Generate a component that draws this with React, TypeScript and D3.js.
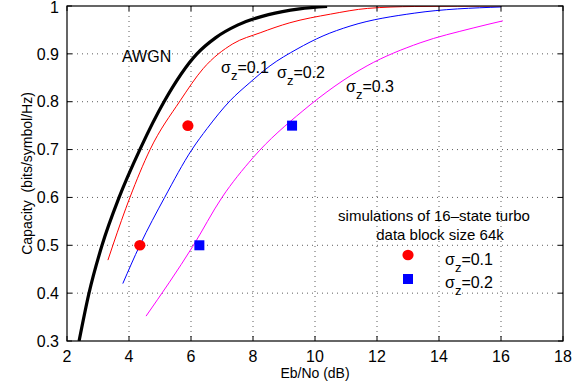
import * as d3 from "d3"

// Eb/No (dB) and capacity
const ebnoAwgn = [2.39, 2.71, 3.13, 3.68, 4.35, 5.13, 6.19, 6.8, 7.5, 8.5, 9.5, 10.39]
const capAwgn = [0.3, 0.4, 0.5, 0.6, 0.7, 0.8, 0.9, 0.934, 0.96, 0.982, 0.994, 0.999]

const ebnoS1 = [3.32, 3.48, 4.03, 4.68, 5.65, 6.39, 7.35, 8.23, 9.19, 10.5, 11.7, 13.2, 16]
const capS1 = [0.469, 0.5, 0.6, 0.7, 0.802, 0.869, 0.921, 0.944, 0.965, 0.983, 0.995, 0.999, 1.0]

const ebnoS2 = [3.8, 4.35, 5.15, 6.03, 6.52, 7.26, 7.9, 8.55, 9.42, 10.26, 11.13, 13.2, 16]
const capS2 = [0.42, 0.5, 0.6, 0.7, 0.744, 0.802, 0.84, 0.875, 0.91, 0.9375, 0.958, 0.985, 0.998]

const ebnoS3 = [4.55, 6.06, 7.0, 8.0, 9.61, 11.68, 13.39, 15.1, 16.06]
const capS3 = [0.352, 0.498, 0.6, 0.683, 0.781, 0.875, 0.923, 0.954, 0.969]

// simulation points (16-state turbo, block 64k)
const simEbnoS1 = [4.35, 5.9]
const simCapS1 = [0.5, 0.75]
const simEbnoS2 = [6.27, 9.26]
const simCapS2 = [0.5, 0.75]

const xTicks = [2, 4, 6, 8, 10, 12, 14, 16, 18]
const yTicks = [0.3, 0.4, 0.5, 0.6, 0.7, 0.8, 0.9, 1]

const font = "'Liberation Sans', Arial, Helvetica, sans-serif"

export default function App() {
  const width = 582
  const height = 390
  const x = d3.scaleLinear().domain([2, 18]).range([67, 563])
  const y = d3.scaleLinear().domain([0.3, 1]).range([341, 6])
  const [x0, x1] = x.range()
  const [y0, y1] = y.range()

  const line = (xs: number[], ys: number[]) =>
    d3
      .line<number>()
      .x((d) => x(d))
      .y((_, i) => y(ys[i]))
      .curve(d3.curveMonotoneX)(xs) || ""

  const curves = [
    { xs: ebnoAwgn, ys: capAwgn, color: "#000", w: 3.2 },
    { xs: ebnoS1, ys: capS1, color: "#ff0000", w: 1 },
    { xs: ebnoS2, ys: capS2, color: "#0000ff", w: 1 },
    { xs: ebnoS3, ys: capS3, color: "#ff00ff", w: 1 },
  ]

  const sigma = (tx: number, ty: number, val: string) => (
    <text x={tx} y={ty} fontSize={16} fill="#000">
      σ<tspan fontSize={13} dy={7}>z</tspan>
      <tspan dy={-7}>={val}</tspan>
    </text>
  )

  return (
    <svg
      width={width}
      height={height}
      style={{ position: "absolute", left: 0, top: 0, background: "#fff" }}
      fontFamily={font}
    >
      <defs>
        <clipPath id="plot">
          <rect x={x0} y={y1} width={x1 - x0} height={y0 - y1} />
        </clipPath>
      </defs>
      <rect width={width} height={height} fill="#fff" />

      {/* grid */}
      {xTicks.slice(1, -1).map((t) => (
        <line key={"gx" + t} x1={x(t)} x2={x(t)} y1={y1} y2={y0} stroke="#333" strokeWidth={0.8} strokeDasharray="1,4" />
      ))}
      {yTicks.slice(1, -1).map((t) => (
        <line key={"gy" + t} x1={x0} x2={x1} y1={y(t)} y2={y(t)} stroke="#333" strokeWidth={0.8} strokeDasharray="1,4" />
      ))}

      {/* curves */}
      <g clipPath="url(#plot)">
        {curves.map((c, i) => (
          <path key={i} d={line(c.xs, c.ys)} fill="none" stroke={c.color} strokeWidth={c.w} />
        ))}
      </g>

      {/* simulation markers */}
      {simEbnoS1.map((v, i) => (
        <ellipse key={"m1" + i} cx={x(v)} cy={y(simCapS1[i])} rx={5.6} ry={5.3} fill="#ff0000" />
      ))}
      {simEbnoS2.map((v, i) => (
        <rect key={"m2" + i} x={x(v) - 5} y={y(simCapS2[i]) - 5} width={10} height={10} fill="#0000ff" />
      ))}

      {/* frame and ticks */}
      <rect x={x0} y={y1} width={x1 - x0} height={y0 - y1} fill="none" stroke="#000" strokeWidth={1.2} />
      {xTicks.map((t) => (
        <g key={"tx" + t}>
          <line x1={x(t)} x2={x(t)} y1={y0} y2={y0 - 5} stroke="#000" />
          <line x1={x(t)} x2={x(t)} y1={y1} y2={y1 + 5} stroke="#000" />
          <text x={x(t)} y={362} textAnchor="middle" fontSize={16}>
            {t}
          </text>
        </g>
      ))}
      {yTicks.map((t) => (
        <g key={"ty" + t}>
          <line x1={x0} x2={x0 + 5} y1={y(t)} y2={y(t)} stroke="#000" />
          <line x1={x1} x2={x1 - 5} y1={y(t)} y2={y(t)} stroke="#000" />
          <text x={59} y={Math.max(y(t), 7)} dy="0.36em" textAnchor="end" fontSize={16}>
            {t}
          </text>
        </g>
      ))}

      {/* axis titles */}
      <text x={(x0 + x1) / 2} y={378} textAnchor="middle" fontSize={14}>
        Eb/No (dB)
      </text>
      <text
        transform={`translate(32,${(y0 + y1) / 2}) rotate(-90)`}
        textAnchor="middle"
        fontSize={14}
        style={{ whiteSpace: "pre" }}
      >
        {"Capacity  (bits/symbol/Hz)"}
      </text>

      {/* curve labels */}
      <text x={122} y={62} fontSize={16}>
        AWGN
      </text>
      {sigma(221, 73, "0.1")}
      {sigma(277, 78, "0.2")}
      {sigma(346, 92, "0.3")}

      {/* legend */}
      <text x={434} y={221} textAnchor="middle" fontSize={15}>
        simulations of 16–state turbo
      </text>
      <text x={440} y={240} textAnchor="middle" fontSize={15}>
        data block size 64k
      </text>
      <ellipse cx={408} cy={255} rx={5.6} ry={5.3} fill="#ff0000" />
      <rect x={403} y={274} width={10} height={10} fill="#0000ff" />
      {sigma(445, 265, "0.1")}
      {sigma(445, 288, "0.2")}
    </svg>
  )
}
